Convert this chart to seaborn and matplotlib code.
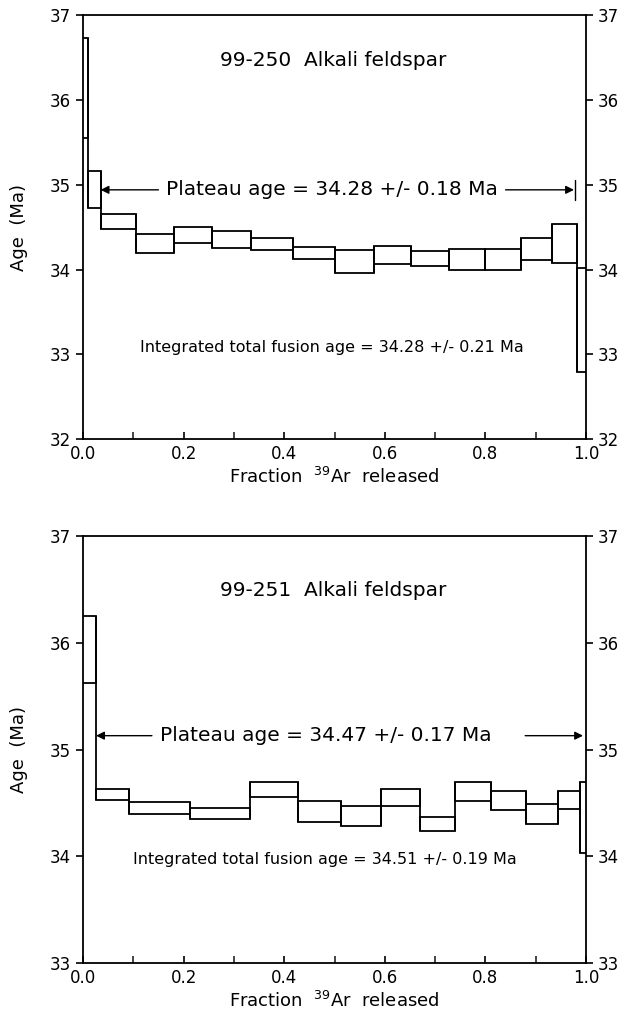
import numpy as np
import matplotlib
matplotlib.use("Agg")
import matplotlib.pyplot as plt
import seaborn as sns

# Step boundaries (cumulative fraction 39Ar) and age box limits (Ma)
frac_250 = [0.0, 0.0105, 0.035, 0.105, 0.180, 0.257, 0.333, 0.417, 0.501,
            0.579, 0.653, 0.727, 0.800, 0.870, 0.933, 0.983, 1.0]
lo_250 = [35.55, 34.73, 34.48, 34.19, 34.31, 34.25, 34.23, 34.12, 33.96,
          34.07, 34.04, 33.99, 33.99, 34.11, 34.08, 32.79]
hi_250 = [36.73, 35.16, 34.65, 34.42, 34.50, 34.46, 34.37, 34.27, 34.23,
          34.28, 34.22, 34.24, 34.24, 34.37, 34.54, 34.02]

frac_251 = [0.0, 0.026, 0.091, 0.213, 0.332, 0.427, 0.513, 0.592, 0.670,
            0.740, 0.811, 0.881, 0.944, 0.988, 1.0]
lo_251 = [35.62, 34.53, 34.40, 34.35, 34.56, 34.32, 34.28, 34.47, 34.24,
          34.52, 34.43, 34.30, 34.44, 34.03]
hi_251 = [36.25, 34.63, 34.51, 34.45, 34.70, 34.52, 34.47, 34.63, 34.37,
          34.70, 34.61, 34.49, 34.61, 34.70]

titles = ["99-250  Alkali feldspar", "99-251  Alkali feldspar"]
plateau = ["Plateau age = 34.28 +/- 0.18 Ma", "Plateau age = 34.47 +/- 0.17 Ma"]
integrated = ["Integrated total fusion age = 34.28 +/- 0.21 Ma",
              "Integrated total fusion age = 34.51 +/- 0.19 Ma"]
ylims = [(32, 37), (33, 37)]

sns.set_theme(style="ticks")
plt.rcParams['font.family'] = ['DejaVu Sans']
plt.rcParams['mathtext.fontset'] = 'dejavusans'
plt.rcParams['text.color'] = 'black'
plt.rcParams['axes.labelcolor'] = 'black'

fig = plt.figure(figsize=(6.18, 10.14), dpi=100)
ax1 = fig.add_axes([0.1343, 0.567, 0.814, 0.418])
ax2 = fig.add_axes([0.1343, 0.0503, 0.814, 0.421])


def draw_spectrum(ax, frac, lo, hi):
    frac = np.asarray(frac)
    lo = np.asarray(lo)
    hi = np.asarray(hi)
    ax.bar(frac[:-1], hi - lo, width=np.diff(frac), bottom=lo, align='edge',
           facecolor='white', edgecolor='black', linewidth=1.3, zorder=3)
    # vertical joins between neighbouring steps
    ymin = np.minimum(lo[:-1], lo[1:])
    ymax = np.maximum(hi[:-1], hi[1:])
    ax.vlines(frac[1:-1], ymin, ymax, color='black', lw=1.3, zorder=4)


def style_axes(ax, ylim):
    ax.set_xlim(0, 1)
    ax.set_ylim(*ylim)
    ax.set_xticks(np.arange(0, 1.01, 0.2))
    ax.set_xticks(np.arange(0.1, 1.0, 0.2), minor=True)
    ax.set_xticklabels([f"{v:.1f}" for v in np.arange(0, 1.01, 0.2)])
    ax.set_yticks(np.arange(ylim[0], ylim[1] + 1, 1))
    ax.tick_params(axis='x', direction='in', length=5, width=1.2,
                   labelsize=12, top=False, pad=4, colors='black')
    ax.tick_params(axis='x', which='minor', direction='in', length=5,
                   width=1.2, top=False)
    ax.tick_params(axis='y', direction='out', length=5, width=1.2,
                   labelsize=12, left=True, right=True, labelright=True,
                   colors='black')
    for sp in ax.spines.values():
        sp.set_linewidth(1.3)
        sp.set_color('black')
    ax.set_ylabel("Age  (Ma)", fontsize=13, labelpad=16)
    ax.set_xlabel("Fraction  $^{39}$Ar  released", fontsize=13, labelpad=3)


# top panel
draw_spectrum(ax1, frac_250, lo_250, hi_250)
style_axes(ax1, ylims[0])
ax1.text(0.497, 36.46, titles[0], ha='center', va='center', fontsize=14.5)
ax1.text(0.494, 34.94, plateau[0], ha='center', va='center', fontsize=14.5)
ax1.annotate('', xy=(0.035, 34.94), xytext=(0.150, 34.94),
             arrowprops=dict(arrowstyle='-|>', color='black', lw=1,
                             shrinkA=0, shrinkB=0, mutation_scale=12))
ax1.annotate('', xy=(0.976, 34.94), xytext=(0.840, 34.94),
             arrowprops=dict(arrowstyle='-|>', color='black', lw=1,
                             shrinkA=0, shrinkB=0, mutation_scale=12))
ax1.plot([0.978, 0.978], [34.82, 35.06], color='black', lw=1)
ax1.text(0.494, 33.08, integrated[0], ha='center', va='center', fontsize=11.5)

# bottom panel
draw_spectrum(ax2, frac_251, lo_251, hi_251)
style_axes(ax2, ylims[1])
ax2.text(0.497, 36.49, titles[1], ha='center', va='center', fontsize=14.5)
ax2.text(0.483, 35.13, plateau[1], ha='center', va='center', fontsize=14.5)
ax2.annotate('', xy=(0.026, 35.13), xytext=(0.137, 35.13),
             arrowprops=dict(arrowstyle='-|>', color='black', lw=1,
                             shrinkA=0, shrinkB=0, mutation_scale=12))
ax2.annotate('', xy=(0.994, 35.13), xytext=(0.879, 35.13),
             arrowprops=dict(arrowstyle='-|>', color='black', lw=1,
                             shrinkA=0, shrinkB=0, mutation_scale=12))
ax2.text(0.481, 33.97, integrated[1], ha='center', va='center', fontsize=11.5)

fig.savefig("out.png", dpi=100)
plt.close(fig)
